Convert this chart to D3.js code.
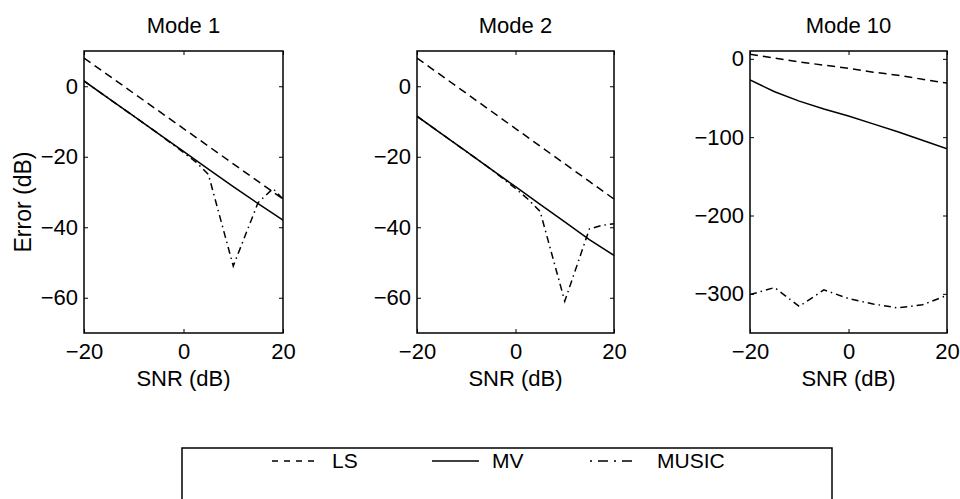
<!DOCTYPE html>
<html>
<head>
<meta charset="utf-8">
<script src="https://cdn.jsdelivr.net/npm/d3@7"></script>
<style>
  body { margin: 0; background: #fff; }
  text { font-family: "Liberation Sans", Arial, Helvetica, sans-serif; fill: #000; }
</style>
</head>
<body>
<script>
// data
const snr = [-20, -15, -10, -5, 0, 5, 10, 15, 20];
const xTicks = [-20, 0, 20];

const mode1LS = [8, 3, -2, -7, -12, -17, -22, -27, -32];
const mode1MV = [1.5, -3.5, -8.5, -13.5, -18.5, -23.5, -28.5, -33.3, -38];
const mode1MusicSnr = [-20, -15, -10, -5, 0, 2.5, 5, 10, 15, 18, 20];
const mode1Music = [1.5, -3.5, -8.5, -13.5, -18.8, -21.5, -25, -51, -33, -29, -32];

const mode2LS = [8, 3, -2, -7, -12, -17, -22, -27, -32];
const mode2MV = [-8.5, -13.5, -18.5, -23.5, -28.5, -33.5, -38.5, -43.5, -48];
const mode2MusicSnr = [-20, -15, -10, -5, 0, 2.5, 5, 10, 15, 17.5, 20];
const mode2Music = [-8.5, -13.5, -18.5, -23.5, -29, -32, -35.5, -61, -40.5, -39.5, -39];

const mode10LS = [6, 1, -4, -8, -12, -17, -21, -26, -31];
const mode10MV = [-27, -42, -54, -64, -73, -83, -93, -104, -115];
const mode10MusicSnr = [-20, -15, -10, -5, 0, 5, 10, 15, 20];
const mode10Music = [-301, -292, -316, -295, -306, -313, -318, -314, -302];

const titles = ['Mode 1', 'Mode 2', 'Mode 10'];
const legendNames = ['LS', 'MV', 'MUSIC'];

// layout
const svgWidth = 960;
const svgHeight = 499;
const plotTop = 51;
const plotBottom = 333;
const fontSize = 22;

const dashLS = '8,5';
const dashMusic = '7,4,1.5,4';

const panels = [
  {left: 84,  right: 283, yDomain: [-70, 10],  yTicks: [-60, -40, -20, 0],
   ls: mode1LS, mv: mode1MV, musicX: mode1MusicSnr, music: mode1Music, ylabel: true},
  {left: 417, right: 614, yDomain: [-70, 10],  yTicks: [-60, -40, -20, 0],
   ls: mode2LS, mv: mode2MV, musicX: mode2MusicSnr, music: mode2Music},
  {left: 750, right: 947, yDomain: [-350, 10], yTicks: [-300, -200, -100, 0],
   ls: mode10LS, mv: mode10MV, musicX: mode10MusicSnr, music: mode10Music}
];

const svg = d3.select('body')
              .append('svg')
              .attr('width', svgWidth)
              .attr('height', svgHeight);

panels.forEach((p, i) => {
    const xScale = d3.scaleLinear().domain([-20, 20]).range([p.left, p.right]);
    const yScale = d3.scaleLinear().domain(p.yDomain).range([plotBottom, plotTop]);

    const g = svg.append('g');

    // clip region for lines
    g.append('clipPath')
     .attr('id', 'clip' + i)
     .append('rect')
     .attr('x', p.left).attr('y', plotTop)
     .attr('width', p.right - p.left).attr('height', plotBottom - plotTop);

    // axes with inward ticks (matlab style)
    const left = g.append('g')
                  .attr('transform', 'translate(' + p.left + ',0)')
                  .call(d3.axisLeft(yScale).tickValues(p.yTicks).tickSizeInner(-4).tickSizeOuter(0).tickPadding(6));
    const right = g.append('g')
                   .attr('transform', 'translate(' + p.right + ',0)')
                   .call(d3.axisRight(yScale).tickValues(p.yTicks).tickSizeInner(-4).tickSizeOuter(0).tickFormat(''));
    const bottom = g.append('g')
                    .attr('transform', 'translate(0,' + plotBottom + ')')
                    .call(d3.axisBottom(xScale).tickValues(xTicks).tickSizeInner(-4).tickSizeOuter(0).tickPadding(10));
    const top = g.append('g')
                 .attr('transform', 'translate(0,' + plotTop + ')')
                 .call(d3.axisTop(xScale).tickValues(xTicks).tickSizeInner(-4).tickSizeOuter(0).tickFormat(''));

    [left, right, bottom, top].forEach(a => {
        a.select('.domain').remove();
        a.selectAll('line').attr('stroke', '#000').attr('stroke-width', 1);
        a.selectAll('text').attr('font-size', fontSize).attr('fill', '#000')
         .style('font-family', '"Liberation Sans", Arial, sans-serif');
    });
    bottom.selectAll('text').attr('dy', '0.71em');

    // plot box
    g.append('rect')
     .attr('x', p.left).attr('y', plotTop)
     .attr('width', p.right - p.left).attr('height', plotBottom - plotTop)
     .attr('fill', 'none').attr('stroke', '#000').attr('stroke-width', 1.5);

    const line = d3.line().x(d => xScale(d[0])).y(d => yScale(d[1]));
    const series = [
        {pts: d3.zip(snr, p.ls), dash: dashLS},
        {pts: d3.zip(snr, p.mv), dash: null},
        {pts: d3.zip(p.musicX, p.music), dash: dashMusic}
    ];
    series.forEach(s => {
        g.append('path')
         .attr('d', line(s.pts))
         .attr('clip-path', 'url(#clip' + i + ')')
         .attr('fill', 'none')
         .attr('stroke', '#000')
         .attr('stroke-width', 1.5)
         .attr('stroke-dasharray', s.dash);
    });

    // title and x label
    const cx = (p.left + p.right) / 2;
    g.append('text').attr('x', cx).attr('y', 33)
     .attr('text-anchor', 'middle').attr('font-size', fontSize).text(titles[i]);
    g.append('text').attr('x', cx).attr('y', 386)
     .attr('text-anchor', 'middle').attr('font-size', fontSize).text('SNR (dB)');

    if (p.ylabel) {
        g.append('text')
         .attr('transform', 'translate(31,' + ((plotTop + plotBottom) / 2 + 10) + ') rotate(-90)')
         .attr('text-anchor', 'middle').attr('font-size', 23).text('Error (dB)');
    }
});

// legend
const legendBox = {x: 182, y: 448, width: 650, height: 70};
svg.append('rect')
   .attr('x', legendBox.x).attr('y', legendBox.y)
   .attr('width', legendBox.width).attr('height', legendBox.height)
   .attr('fill', 'none').attr('stroke', '#000').attr('stroke-width', 1.5);

const legendX = [272, 432, 590];
const legendDash = [dashLS, null, dashMusic];
legendNames.forEach((name, i) => {
    svg.append('line')
       .attr('x1', legendX[i]).attr('x2', legendX[i] + 47)
       .attr('y1', 461).attr('y2', 461)
       .attr('stroke', '#000').attr('stroke-width', 1.5)
       .attr('stroke-dasharray', i === 0 ? '6,6' : (i === 2 ? '2,6,10,6' : null));
    svg.append('text')
       .attr('x', legendX[i] + (i === 2 ? 67 : 60)).attr('y', 468)
       .attr('font-size', 21).text(name);
});
</script>
</body>
</html>
